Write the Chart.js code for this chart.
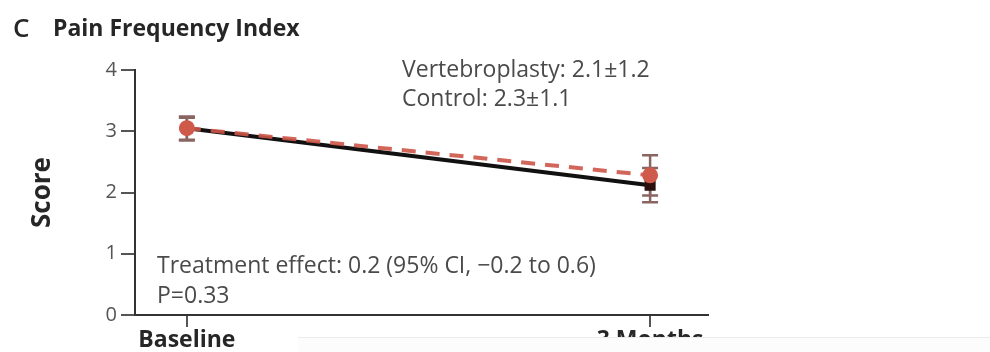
<!DOCTYPE html>
<html>
<head>
<meta charset="utf-8">
<script src="https://cdn.jsdelivr.net/npm/chart.js@4.4.0/dist/chart.umd.min.js"></script>
<style>
	html, body { margin: 0; padding: 0; background: #fff; }
	#wrap { position: relative; width: 990px; height: 352px; }
	#cover { position: absolute; left: 298px; top: 337px; width: 692px; height: 15px; background: #fcfcfc; border-top: 1px solid #ececec; }
</style>
</head>
<body>
<div id="wrap">
	<canvas id="myChart" width="990" height="352"></canvas>
	<div id="cover"></div>
</div>
<script>
/* data */
const timepoints = ['Baseline', '3 Months'];
const vertebroplasty = [3.05, 2.12];
const control = [3.05, 2.28];
const vertLow = [2.86, 1.84];
const vertHigh = [3.22, 2.40];
const ctrlLow = [2.85, 1.95];
const ctrlHigh = [3.24, 2.61];
const yTicks = [0, 1, 2, 3, 4];

const FONT = '"Open Sans", "Noto Sans", sans-serif';

function toPoints(arr) {
	return arr.map((v, i) => ({ x: i, y: v }));
}

/* error bars + annotation text */
const extras = {
	id: 'extras',
	beforeDatasetsDraw(chart) {
		const { ctx, scales: { x, y } } = chart;
		const bars = [[ctrlLow, ctrlHigh], [vertLow, vertHigh]];
		ctx.save();
		ctx.strokeStyle = '#8a6460';
		ctx.lineWidth = 2.5;
		bars.forEach(([lo, hi]) => {
			lo.forEach((v, i) => {
				const px = x.getPixelForValue(i);
				const y1 = y.getPixelForValue(v);
				const y2 = y.getPixelForValue(hi[i]);
				ctx.beginPath();
				ctx.moveTo(px, y1); ctx.lineTo(px, y2);
				ctx.moveTo(px - 8, y1); ctx.lineTo(px + 8, y1);
				ctx.moveTo(px - 8, y2); ctx.lineTo(px + 8, y2);
				ctx.stroke();
			});
		});
		ctx.restore();
	},
	afterDraw(chart) {
		const ctx = chart.ctx;
		ctx.save();
		ctx.textBaseline = 'alphabetic';
		ctx.fillStyle = '#262626';
		ctx.font = '600 26px ' + FONT;
		ctx.fillText('C', 13, 37);
		ctx.font = 'bold 23px ' + FONT;
		ctx.fillText('Pain Frequency Index', 53, 36);
		ctx.fillStyle = '#4a4a4a';
		ctx.font = '23px ' + FONT;
		ctx.fillText('Vertebroplasty: 2.1\u00b11.2', 402, 77);
		ctx.fillText('Control: 2.3\u00b11.1', 402, 106);
		ctx.fillText('Treatment effect: 0.2 (95% CI, \u22120.2 to 0.6)', 157, 273);
		ctx.fillText('P=0.33', 157, 303);
		ctx.restore();
	}
};

const ctx = document.getElementById('myChart');

new Chart(ctx, {
	type: 'line',
	data: {
		datasets: [
			{
				label: 'Vertebroplasty',
				data: toPoints(vertebroplasty),
				borderColor: '#111',
				borderWidth: 4,
				pointStyle: 'rect',
				pointRadius: 5,
				pointBackgroundColor: '#2a0f0c',
				pointBorderColor: '#2a0f0c',
				order: 2
			},
			{
				label: 'Control',
				data: toPoints(control),
				borderColor: 'rgba(205, 85, 72, 0.9)',
				borderWidth: 4,
				borderDash: [14, 10],
				pointRadius: 6,
				pointBackgroundColor: '#cf5a4c',
				pointBorderColor: '#cf5a4c',
				order: 1
			}
		]
	},
	options: {
		responsive: false,
		animation: false,
		layout: { padding: { top: 70, right: 282, left: 0, bottom: 0 } },
		plugins: {
			legend: { display: false },
			tooltip: { enabled: false }
		},
		scales: {
			x: {
				type: 'linear',
				min: -0.112,
				max: 1.125,
				afterBuildTicks: (axis) => { axis.ticks = [{ value: 0 }, { value: 1 }]; },
				afterFit: (axis) => { axis.height = 37; },
				border: { color: '#333', width: 2 },
				grid: { drawOnChartArea: false, drawTicks: true, tickLength: 12, color: '#555', lineWidth: 2 },
				ticks: {
					padding: 0,
					maxRotation: 0,
					color: '#262626',
					font: { family: FONT, size: 23, weight: 'bold' },
					callback: (v) => timepoints[v] ?? ''
				}
			},
			y: {
				min: 0,
				max: 4,
				afterBuildTicks: (axis) => { axis.ticks = yTicks.map(v => ({ value: v })); },
				afterFit: (axis) => { axis.width = 135; },
				border: { color: '#333', width: 2 },
				grid: { drawOnChartArea: false, drawTicks: true, tickLength: 14, color: '#555', lineWidth: 2 },
				ticks: {
					padding: 4,
					color: '#555',
					font: { family: FONT, size: 20 }
				},
				title: {
					display: true,
					text: 'Score',
					color: '#262626',
					padding: { top: 27, bottom: 0 },
					font: { family: FONT, size: 26, weight: 'bold' }
				}
			}
		}
	},
	plugins: [extras]
});
</script>
</body>
</html>
